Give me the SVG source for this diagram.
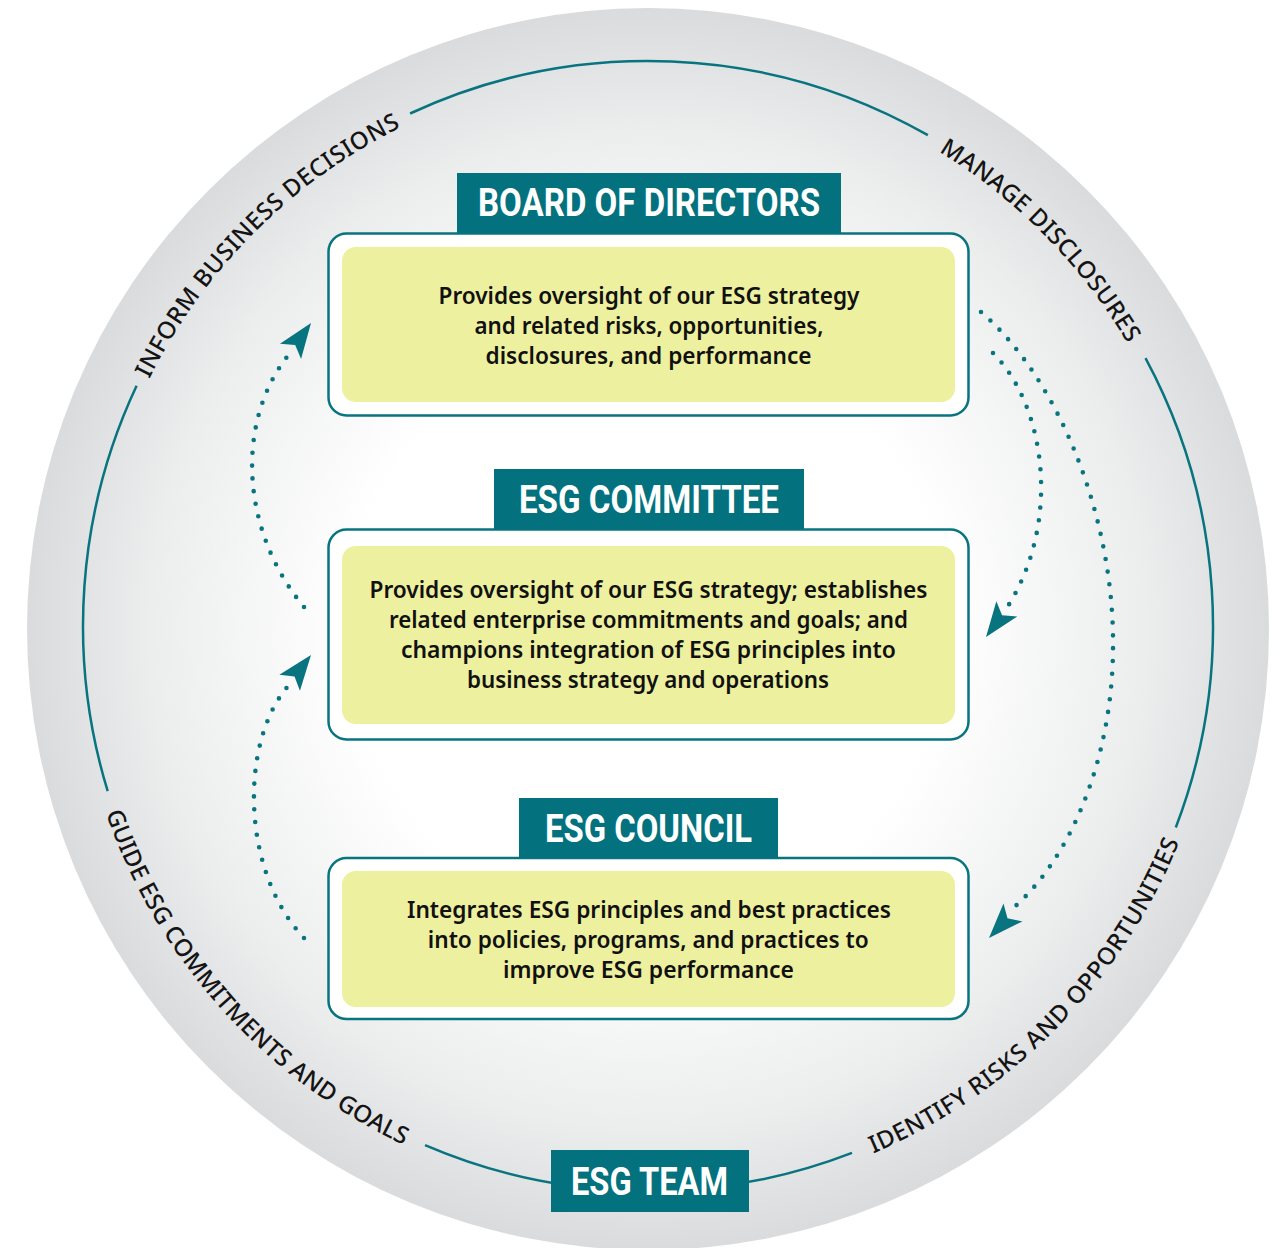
<svg xmlns="http://www.w3.org/2000/svg" xmlns:xlink="http://www.w3.org/1999/xlink" width="1280" height="1248" viewBox="0 0 1280 1248">
<style>
.hdr{fill:#03727e}
.hdrt{font-family:Roboto,"Liberation Sans",sans-serif;font-weight:700;font-size:38px;fill:#fff;text-anchor:middle}
.box{fill:#fff;stroke:#08747f;stroke-width:2.5}
.inner{fill:#edf09f}
.body{font-family:"Noto Sans","Open Sans",sans-serif;font-weight:600;font-size:23px;fill:#111;text-anchor:middle}
.lbl{font-family:"Noto Sans","Open Sans",sans-serif;font-weight:500;font-size:24px;fill:#141414}
.ring{fill:none;stroke:#08747f;stroke-width:2.5}
.dots{fill:none;stroke:#08747f;stroke-width:4.6;stroke-linecap:round;stroke-dasharray:0 12.8}
.arrow{fill:#08747f}
</style>
<defs>
<radialGradient id="bg" cx="648" cy="629" r="621" gradientUnits="userSpaceOnUse">
<stop offset="0" stop-color="#ffffff"/>
<stop offset="0.48" stop-color="#ffffff"/>
<stop offset="0.8" stop-color="#eceded"/>
<stop offset="1" stop-color="#dadbdd"/>
</radialGradient>
<path id="ah" d="M0,0 L-35,-13 L-27,0 L-35,13 Z"/>
<path id="pInform" d="M93.6,577.6 A556.5,556.5 0 0 1 599.5,71.6"/>
<path id="pManage" d="M701.4,72.1 A556.5,556.5 0 0 1 1202.8,582.3"/>
<path id="pIdentify" d="M703.0,1196.9 A573.5,573.5 0 0 0 1219.7,671.0"/>
<path id="pGuide" d="M74.8,645 A573.5,573.5 0 0 0 567.2,1193.8"/>
</defs>
<rect x="0" y="0" width="1280" height="1248" fill="#fff"/>
<circle cx="648" cy="629" r="621" fill="url(#bg)"/>

<g id="ring">
<path class="ring" d="M410.1,113.5 A565,565 0 0 1 927.9,135.2"/>
<path class="ring" d="M1145.5,358.1 A565,565 0 0 1 1175.8,827.5"/>
<path class="ring" d="M852,1152.9 A565,565 0 0 1 425,1145.1"/>
<path class="ring" d="M107.7,791.2 A565,565 0 0 1 136.6,385.8"/>
</g>

<g id="ring-labels">
<text class="lbl"><textPath href="#pInform" startOffset="50%" text-anchor="middle" textLength="362">INFORM BUSINESS DECISIONS</textPath></text>
<text class="lbl"><textPath href="#pManage" startOffset="50%" text-anchor="middle" textLength="272">MANAGE DISCLOSURES</textPath></text>
<text class="lbl"><textPath href="#pIdentify" startOffset="50%" text-anchor="middle" textLength="448">IDENTIFY RISKS AND OPPORTUNITIES</textPath></text>
<text class="lbl"><textPath href="#pGuide" startOffset="50%" text-anchor="middle" textLength="458">GUIDE ESG COMMITMENTS AND GOALS</textPath></text>
</g>

<g id="connectors">
<path class="dots" d="M304,607 C240,530 235,420 290,353"/>
<use href="#ah" class="arrow" transform="translate(311,323) rotate(-54.2)"/>
<path class="dots" d="M304,938 C240,870 240,740 289,685"/>
<use href="#ah" class="arrow" transform="translate(311,655) rotate(-52.4)"/>
<path class="dots" d="M993,353 C1045,405 1062,520 1008,606"/>
<use href="#ah" class="arrow" transform="translate(986,637) rotate(126.5)"/>
<path class="dots" d="M981,312 C1060,380 1115,520 1113,650 C1112,760 1070,860 1011,910"/>
<use href="#ah" class="arrow" transform="translate(989,938) rotate(133.2)"/>
</g>

<g id="board">
<rect class="box" x="328.5" y="233.5" width="640" height="182" rx="18"/>
<rect class="inner" x="342" y="247" width="613" height="155" rx="14"/>
<rect class="hdr" x="457" y="173" width="384" height="60"/>
<text class="hdrt" x="649" y="216" textLength="342" lengthAdjust="spacingAndGlyphs">BOARD OF DIRECTORS</text>
<text class="body" x="649" y="304" textLength="421" lengthAdjust="spacingAndGlyphs">Provides oversight of our ESG strategy</text>
<text class="body" x="649" y="334" textLength="349" lengthAdjust="spacingAndGlyphs">and related risks, opportunities,</text>
<text class="body" x="648.5" y="364" textLength="326" lengthAdjust="spacingAndGlyphs">disclosures, and performance</text>
</g>

<g id="committee">
<rect class="box" x="328.5" y="529.5" width="640" height="210" rx="18"/>
<rect class="inner" x="342" y="546" width="613" height="178" rx="14"/>
<rect class="hdr" x="494" y="469" width="310" height="60"/>
<text class="hdrt" x="649" y="513" textLength="260" lengthAdjust="spacingAndGlyphs">ESG COMMITTEE</text>
<text class="body" x="648.5" y="598" textLength="558" lengthAdjust="spacingAndGlyphs">Provides oversight of our ESG strategy; establishes</text>
<text class="body" x="648.5" y="628" textLength="519" lengthAdjust="spacingAndGlyphs">related enterprise commitments and goals; and</text>
<text class="body" x="648.5" y="658" textLength="495" lengthAdjust="spacingAndGlyphs">champions integration of ESG principles into</text>
<text class="body" x="648" y="688" textLength="362" lengthAdjust="spacingAndGlyphs">business strategy and operations</text>
</g>

<g id="council">
<rect class="box" x="328.5" y="858" width="640" height="161" rx="18"/>
<rect class="inner" x="342" y="871" width="613" height="136" rx="14"/>
<rect class="hdr" x="519" y="798" width="259" height="60"/>
<text class="hdrt" x="648.5" y="842" textLength="207" lengthAdjust="spacingAndGlyphs">ESG COUNCIL</text>
<text class="body" x="649" y="918" textLength="484" lengthAdjust="spacingAndGlyphs">Integrates ESG principles and best practices</text>
<text class="body" x="648.3" y="948" textLength="441" lengthAdjust="spacingAndGlyphs">into policies, programs, and practices to</text>
<text class="body" x="648.5" y="978" textLength="291" lengthAdjust="spacingAndGlyphs">improve ESG performance</text>
</g>

<g id="team">
<rect class="hdr" x="551" y="1150" width="198" height="62"/>
<text class="hdrt" x="649.5" y="1195" textLength="157" lengthAdjust="spacingAndGlyphs">ESG TEAM</text>
</g>
</svg>
